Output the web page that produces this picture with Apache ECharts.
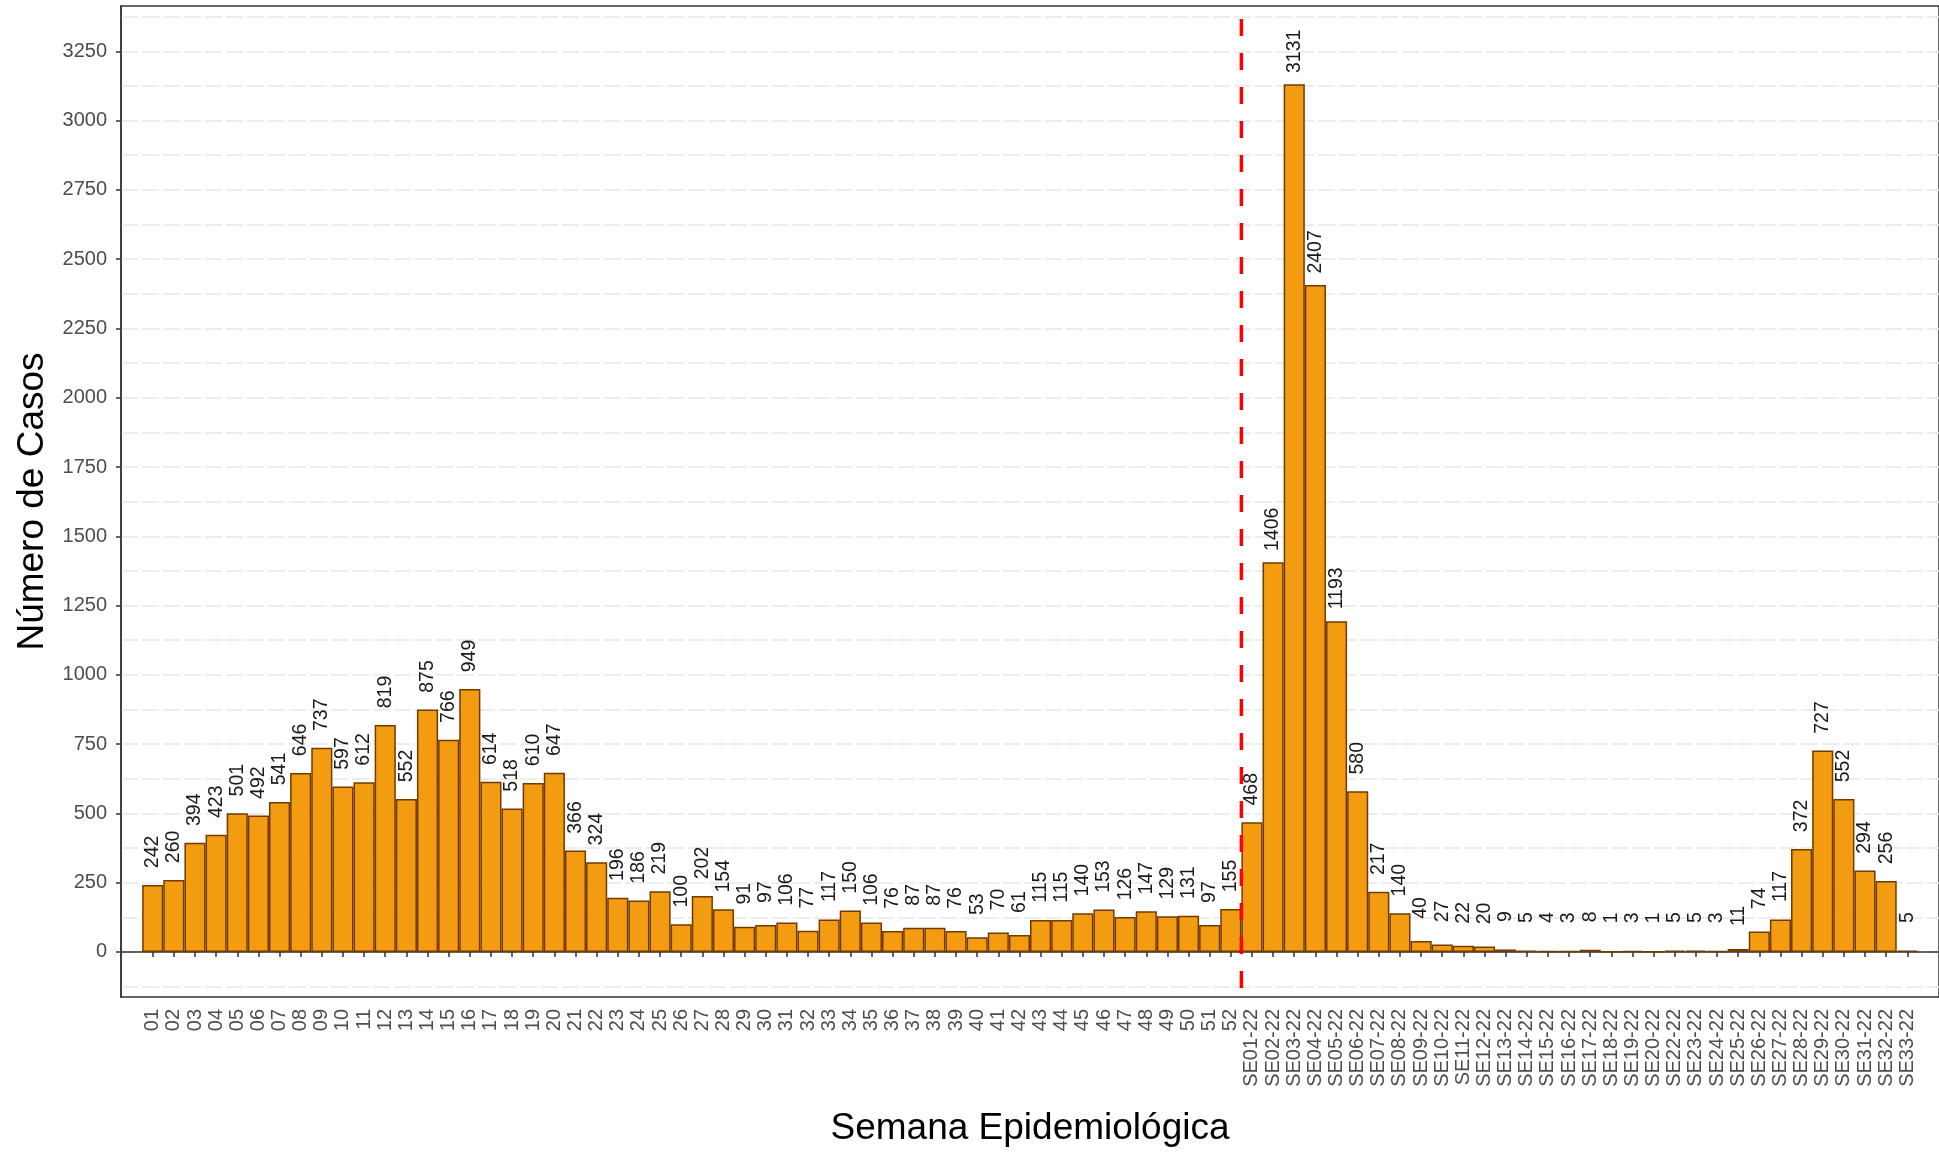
<!DOCTYPE html>
<html>
<head>
<meta charset="utf-8">
<script src="https://cdn.jsdelivr.net/npm/echarts@6/dist/echarts.min.js"></script>
<style>
  html, body { margin: 0; padding: 0; background: #ffffff; }
  #chart { width: 1939px; height: 1152px; }
</style>
</head>
<body>
<div id="chart"></div>
<script>
// ---- Data ----
const weeks2021 = ['01','02','03','04','05','06','07','08','09','10','11','12','13','14','15','16','17','18','19','20',
  '21','22','23','24','25','26','27','28','29','30','31','32','33','34','35','36','37','38','39','40',
  '41','42','43','44','45','46','47','48','49','50','51','52'];
const cases2021 = [242,260,394,423,501,492,541,646,737,597,612,819,552,875,766,949,614,518,610,647,
  366,324,196,186,219,100,202,154,91,97,106,77,117,150,106,76,87,87,76,53,
  70,61,115,115,140,153,126,147,129,131,97,155];
const weeks2022 = ['SE01-22','SE02-22','SE03-22','SE04-22','SE05-22','SE06-22','SE07-22','SE08-22','SE09-22','SE10-22',
  'SE11-22','SE12-22','SE13-22','SE14-22','SE15-22','SE16-22','SE17-22','SE18-22','SE19-22','SE20-22',
  'SE22-22','SE23-22','SE24-22','SE25-22','SE26-22','SE27-22','SE28-22','SE29-22','SE30-22','SE31-22','SE32-22','SE33-22'];
const cases2022 = [468,1406,3131,2407,1193,580,217,140,40,27,22,20,9,5,4,3,8,1,3,1,
  5,5,3,11,74,117,372,727,552,294,256,5];
const yTickLabels = [0,250,500,750,1000,1250,1500,1750,2000,2250,2500,2750,3000,3250];
const yMin = -162.5, yMax = 3413.5;
const xTitle = 'Semana Epidemiológica';
const yTitle = 'Número de Casos';

// ---- Build ----
const cats = ['', ...weeks2021, ...weeks2022, ''];
const vals = [null, ...cases2021, ...cases2022, null];
const splitIdx = cats.indexOf(weeks2022[0]);
const gridVals = [];
for (let i = 0; i < yTickLabels.length; i++) {
  gridVals.push(yTickLabels[i]);
  const step = (yTickLabels[1] - yTickLabels[0]) / 2;
  gridVals.push(yTickLabels[i] + step);
  if (i === 0) gridVals.push(yTickLabels[0] - step);
}
gridVals.sort((a, b) => a - b);

const FONT = "'Liberation Sans', Arial, sans-serif";
const chart = echarts.init(document.getElementById('chart'), null, { renderer: 'canvas' });
chart.setOption({
  backgroundColor: '#ffffff',
  animation: false,
  textStyle: { fontFamily: FONT },
  grid: { left: 121, top: 6, right: -1, bottom: 153, show: true, borderColor: '#333333', borderWidth: 1.5, containLabel: false },
  xAxis: [{
    type: 'category',
    data: cats,
    boundaryGap: true,
    axisLine: { show: true, lineStyle: { color: '#333333', width: 1.5 } },
    axisTick: { show: true, alignWithLabel: true, length: 5, interval: (i, v) => v !== '', lineStyle: { color: '#333333', width: 1.5 } },
    axisLabel: { interval: 0, rotate: 90, fontSize: 20, color: '#4d4d4d', margin: 12, fontFamily: FONT },
    splitLine: { show: false },
    name: xTitle, nameLocation: 'middle', nameGap: 113,
    nameTextStyle: { fontSize: 37, color: '#000000', fontFamily: FONT }
  }, {
    type: 'value', min: 0, max: cats.length, show: false
  }],
  yAxis: [{
    type: 'value', min: yMin, max: yMax,
    axisLine: { show: true, lineStyle: { color: '#333333', width: 1.5 } },
    axisTick: { show: false, customValues: gridVals },
    axisLabel: { customValues: yTickLabels, fontSize: 20, color: '#4d4d4d', margin: 14, fontFamily: FONT,
      formatter: (v) => String(v) },
    splitLine: { show: true, lineStyle: { color: '#e8e8e8', width: 1.5, type: [17, 4] } },
    name: yTitle, nameLocation: 'middle', nameGap: 61,
    nameTextStyle: { fontSize: 37, color: '#000000', fontFamily: FONT }
  }, {
    type: 'value', min: yMin, max: yMax, position: 'left',
    axisLine: { show: false },
    axisTick: { show: true, customValues: yTickLabels, length: 5, lineStyle: { color: '#333333', width: 1.5 } },
    axisLabel: { show: false },
    splitLine: { show: false }
  }],
  series: [{
    type: 'bar',
    data: vals,
    barWidth: '100%',
    z: 2,
    itemStyle: { color: '#F39C12', borderColor: '#733a00', borderWidth: 1.5 },
    label: {
      show: true, position: 'top', distance: 33, rotate: 90,
      align: 'center', verticalAlign: 'middle',
      fontSize: 19.5, color: '#1a1a1a', fontFamily: FONT
    }
  }, {
    type: 'line',
    xAxisIndex: 1,
    yAxisIndex: 0,
    data: [[splitIdx, yMax], [splitIdx, yMin]],
    showSymbol: false,
    symbol: 'none',
    silent: true,
    z: 5,
    lineStyle: { color: '#ff0000', width: 3.5, type: [17, 17], dashOffset: 21 }
  }]
});
</script>
</body>
</html>
